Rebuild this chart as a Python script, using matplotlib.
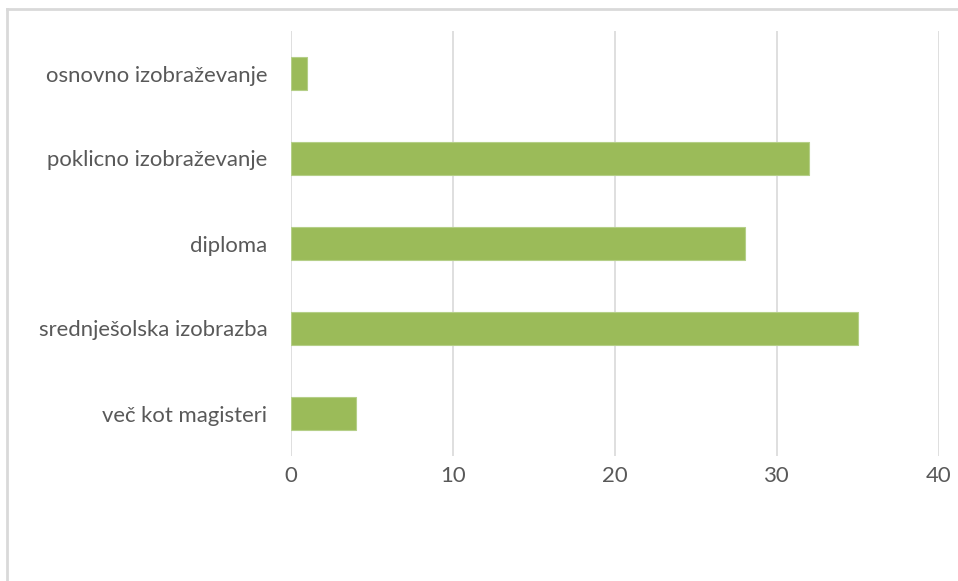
import matplotlib.pyplot as plt
from matplotlib.lines import Line2D

# categories (top to bottom) and values
kategorije = ['osnovno izobraževanje', 'poklicno izobraževanje', 'diploma',
              'srednješolska izobrazba', 'več kot magisteri']
vrednosti = [1, 32, 28, 35, 4]
x_ticks = [0, 10, 20, 30, 40]

plt.rcParams['font.family'] = ['Lato', 'DejaVu Sans']

W, H = 958, 581
fig = plt.figure(figsize=(W / 100, H / 100), dpi=100)
ax = fig.add_axes([291 / W, 1 - 456 / H, (939 - 291) / W, (456 - 31) / H])

pos = list(range(len(kategorije)))[::-1]
ax.barh(pos, vrednosti, height=0.39, color='#9BBB59', edgecolor='#b5cf88',
        linewidth=0.8, zorder=3)

ax.set_xlim(0, 40)
ax.set_ylim(-0.5, len(kategorije) - 0.5)
ax.set_xticks(x_ticks)
ax.set_yticks(pos)
ax.set_yticklabels(kategorije)
ax.grid(axis='x', color='#d9d9d9', linewidth=1.2, zorder=0)
for s in ax.spines.values():
    s.set_visible(False)
ax.tick_params(length=0, labelsize=15.9, colors='#595959')
ax.tick_params(axis='y', pad=17)
ax.tick_params(axis='x', pad=7)

# chart border (top and left visible)
fig.add_artist(Line2D([7 / W, 1], [1 - 9 / H, 1 - 9 / H], color='#d9d9d9', linewidth=2))
fig.add_artist(Line2D([7 / W, 7 / W], [0, 1 - 9 / H], color='#d9d9d9', linewidth=2))

fig.savefig('out.png', dpi=100)
